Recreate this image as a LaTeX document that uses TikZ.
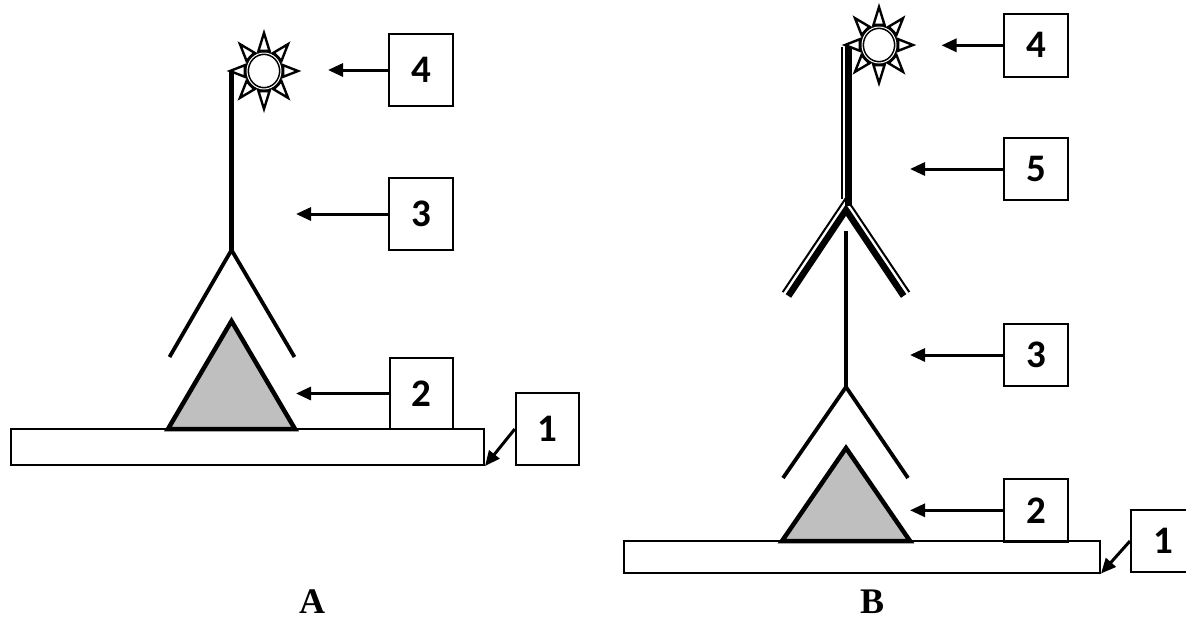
\documentclass[tikz,border=0pt]{standalone}
\usepackage{fontspec}
\setmainfont{Liberation Serif}
\newfontfamily\digitfont{Carlito}[BoldFont={Carlito Bold}]
\usetikzlibrary{arrows.meta}
\definecolor{antigen}{HTML}{BFBFBF}
\tikzset{
  numbox/.style={draw, line width=2, inner sep=0pt, minimum width=64, minimum height=64,
    font=\digitfont\bfseries\fontsize{39}{41}\selectfont},
  barbox/.style={draw, line width=2, inner sep=0pt, fill=white},
  arr/.style={line width=3, -{Triangle[length=15,width=13]}},
  ablink/.style={line width=3.8, line cap=butt, line join=miter},
  abstem/.style={line width=4.2, line cap=butt},
  antigentri/.style={draw, line width=4.5, fill=antigen, line join=miter},
  thinstrand/.style={line width=2, line cap=butt, line join=miter},
  thickstrand/.style={line width=6.5, line cap=butt, line join=miter},
  panellabel/.style={font=\bfseries\fontsize{36}{38}\selectfont, inner sep=0pt, anchor=base},
  sunpic/.pic={
    \foreach \a in {0,45,...,315}{
      \draw[line width=2.4, fill=white, line join=miter] (\a:34 and 38) -- (\a+16:20 and 21) -- (\a-16:20 and 21) -- cycle;
    }
    \draw[line width=1.6, double=white, double distance=1, fill=white] (0,0) ellipse (17 and 18);
  }
}
\begin{document}
\begin{tikzpicture}[x=1pt,y=-1pt]
\useasboundingbox (0,0) rectangle (1186,619);

% ================= Panel A =================
\node[barbox, minimum width=473, minimum height=36] (barA) at (247.5,447) {};
\draw[antigentri] (168,429) -- (231.5,321) -- (295,429) -- cycle;
\coordinate (forkA) at (231.5,250);
\draw[ablink] (169.5,357) -- (forkA) -- (294.5,357);
\draw[abstem] (forkA) -- (231.5,71);
\pic at (264,71) {sunpic};

\node[numbox, minimum height=72] (b4A) at (421,70) {4};
\node[numbox, minimum height=72] (b3A) at (421,214) {3};
\node[numbox, minimum width=63, minimum height=71] (b2A) at (421,393.5) {2};
\node[numbox, minimum width=63, minimum height=72] (b1A) at (547.3,429) {1};

\coordinate (t4A) at (328,70);
\coordinate (t3A) at (296,214);
\coordinate (t2A) at (296,393.5);
\draw[arr] (b4A.west) -- (t4A);
\draw[arr] (b3A.west) -- (t3A);
\draw[arr] (b2A.west) -- (t2A);
\draw[arr] (b1A.west) -- (barA.south east);

\node[panellabel] (labA) at (312,613) {A};

% ================= Panel B =================
\node[barbox, minimum width=476.5, minimum height=31.5] (barB) at (861.75,556.75) {};
\draw[antigentri] (782,541) -- (846,448) -- (910,541) -- cycle;
\coordinate (forkB) at (846,387);
\draw[ablink] (783,478) -- (forkB) -- (908,478);
\draw[abstem] (forkB) -- (846,231);

% secondary antibody (compound line: thin outer strand, thick inner strand)
\draw[thickstrand] (788.4,296) -- (846,210) -- (903.6,296);
\draw[thinstrand] (782.7,292.1) -- (846,197.9) -- (909.3,292.1);
\draw[thickstrand] (848.5,206) -- (848.5,45);
\draw[thinstrand] (842,199) -- (842,47);
\pic at (879,45) {sunpic};

\node[numbox, minimum height=62.5] (b4B) at (1036.3,45.3) {4};
\node[numbox, minimum height=62.5] (b5B) at (1036.3,169) {5};
\node[numbox, minimum height=62.5] (b3B) at (1036.3,355) {3};
\node[numbox, minimum height=62.5] (b2B) at (1036.3,510.3) {2};
\node[numbox, minimum height=62.5] (b1B) at (1163,541) {1};

\coordinate (t4B) at (941.5,45.3);
\coordinate (t5B) at (910,169);
\coordinate (t3B) at (910,355);
\coordinate (t2B) at (910,510.3);
\draw[arr] (b4B.west) -- (t4B);
\draw[arr] (b5B.west) -- (t5B);
\draw[arr] (b3B.west) -- (t3B);
\draw[arr] (b2B.west) -- (t2B);
\draw[arr] (b1B.west) -- (barB.south east);

\node[panellabel] (labB) at (872,613) {B};
\end{tikzpicture}
\end{document}
